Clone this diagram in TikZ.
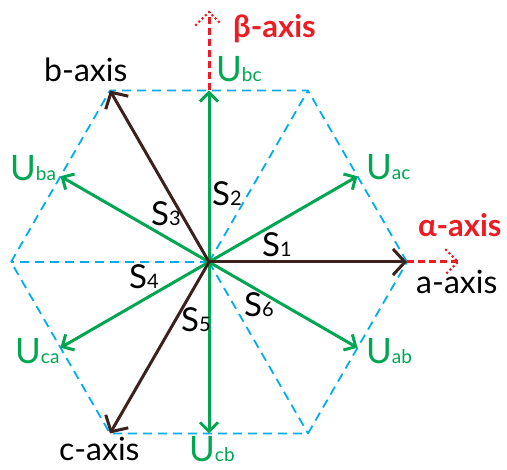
\documentclass[tikz,border=0pt]{standalone}
\usepackage{fontspec}
\setmainfont{Lato}
\usetikzlibrary{arrows.meta}
\definecolor{hexblue}{RGB}{0,174,239}
\definecolor{vgreen}{RGB}{0,166,81}
\definecolor{axbrown}{RGB}{60,34,30}
\definecolor{axred}{RGB}{237,28,36}
\newcommand\usub{\fontsize{19}{19}\selectfont}
\newcommand\ssub{\fontsize{20}{20}\selectfont}
\begin{document}
\begin{tikzpicture}[x=1pt,y=1pt,
  hexline/.style={hexblue, line width=1.8pt, dash pattern=on 9pt off 6pt},
  vecarrow/.style={vgreen, line width=3pt, -{Straight Barb[length=9pt,width=18pt]}},
  axarrow/.style={axbrown, line width=3pt, -{Straight Barb[length=12pt,width=26pt]}},
  reddash/.style={axred, line width=3pt, dash pattern=on 7pt off 4pt},
  reddot/.style={axred, line width=3pt, line cap=round, dash pattern=on 0pt off 4.6pt},
  axlabel/.style={font=\fontsize{32}{32}\selectfont, anchor=base west, inner sep=0pt, text=black},
  redlabel/.style={font=\fontsize{31}{31}\selectfont\bfseries, anchor=base west, inner sep=0pt, text=axred},
  ulabel/.style={font=\fontsize{35}{35}\selectfont, anchor=base west, inner sep=0pt, text=vgreen},
  slabel/.style={font=\fontsize{33}{33}\selectfont, anchor=base west, inner sep=0pt, text=black}
]
\useasboundingbox (0,-470) rectangle (507,0);
\coordinate (O) at (209,-262);
\foreach \i in {0,...,5} {
  \path (O) ++(60*\i:198) coordinate (V\i);
  \path (O) ++(30+60*\i:171.5) coordinate (M\i);
}
\coordinate (alphatip) at (458,-262);
\coordinate (betatip) at (209,-12);
\coordinate (a1) at (446,-250);
\coordinate (a2) at (446,-274);
\coordinate (b1) at (196,-25);
\coordinate (b2) at (222,-25);
% hexagon and dashed spokes
\draw[hexline] (V0) -- (V1) -- (V2) -- (V3) -- (V4) -- (V5) -- cycle;
\draw[hexline] (O) -- (V1);
\draw[hexline] (O) -- (V3);
\draw[hexline] (O) -- (V5);
% green voltage vectors
\foreach \i in {0,...,5} { \draw[vecarrow] (O) -- (M\i); }
% abc axes
\draw[axarrow] (O) -- (V0);
\draw[axarrow] (O) -- (V2);
\draw[axarrow] (O) -- (V4);
% alpha beta axes
\draw[reddash] (V0) -- (alphatip);
\draw[reddot] (a1) -- (alphatip) -- (a2);
\draw[reddash] (M1) -- (betatip);
\draw[reddot] (b1) -- (betatip) -- (b2);
% labels
\node[redlabel] (beta) at (233,-38) {β-axis};
\node[redlabel] (alpha) at (418,-237) {α-axis};
\node[axlabel] (baxis) at (44,-82) {b-axis};
\node[axlabel] (aaxis) at (416,-294) {a-axis};
\node[axlabel] (caxis) at (59,-461) {c-axis};
\node[ulabel] (Ubc) at (216,-82) {U{\usub bc}};
\node[ulabel] (Uba) at (10,-181) {U{\usub ba}};
\node[ulabel] (Uac) at (366,-180) {U{\usub ac}};
\node[ulabel] (Uca) at (15,-364) {U{\usub ca}};
\node[ulabel] (Uab) at (366,-364) {U{\usub ab}};
\node[ulabel] (Ucb) at (189,-462) {U{\usub cb}};
\node[slabel] (S1) at (262,-257) {S{\ssub 1}};
\node[slabel] (S2) at (212,-206) {S{\ssub 2}};
\node[slabel] (S3) at (151,-226) {S{\ssub 3}};
\node[slabel] (S4) at (129,-289) {S{\ssub 4}};
\node[slabel] (S5) at (181,-332) {S{\ssub 5}};
\node[slabel] (S6) at (244,-317) {S{\ssub 6}};
\end{tikzpicture}
\end{document}
